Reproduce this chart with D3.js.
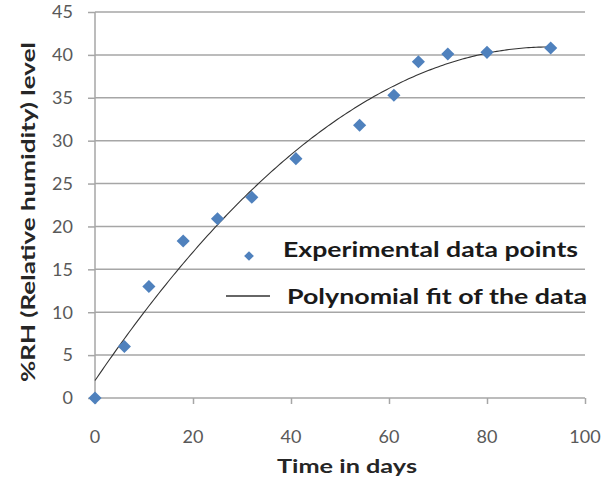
<!DOCTYPE html>
<html>
<head>
<meta charset="utf-8">
<script src="https://cdn.jsdelivr.net/npm/d3@7"></script>
<style>
  html, body { margin: 0; padding: 0; background: #fff; }
  svg { display: block; font-family: Lato, "Open Sans", sans-serif; }
</style>
</head>
<body>
<svg id="chart" width="603" height="491"></svg>
<script>
// Measured relative humidity over time
const days = [0, 6, 11, 18, 25, 32, 41, 54, 61, 66, 72, 80, 93];
const rhLevel = [0, 6.0, 13.0, 18.3, 20.9, 23.4, 27.9, 31.8, 35.3, 39.2, 40.1, 40.3, 40.8];
const xTicks = [0, 20, 40, 60, 80, 100];
const yTicks = [0, 5, 10, 15, 20, 25, 30, 35, 40, 45];
const legendLabels = ["Experimental data points", "Polynomial fit of the data"];
const fitDegree = 2;

const W = 603, H = 491;
const margin = { top: 12, right: 18, bottom: 93, left: 95 };

const svg = d3.select("#chart");

const x = d3.scaleLinear().domain([0, 100]).range([margin.left, W - margin.right]);
const y = d3.scaleLinear().domain([0, 45]).range([H - margin.bottom, margin.top]);

// Least-squares polynomial fit (normal equations, Gaussian elimination)
function polyFit(xs, ys, deg) {
  const n = deg + 1;
  const A = Array.from({ length: n }, () => new Array(n + 1).fill(0));
  for (let r = 0; r < n; r++) {
    for (let c = 0; c < n; c++) A[r][c] = d3.sum(xs, v => Math.pow(v, r + c));
    A[r][n] = d3.sum(xs, (v, i) => ys[i] * Math.pow(v, r));
  }
  for (let i = 0; i < n; i++) {
    let p = i;
    for (let k = i + 1; k < n; k++) if (Math.abs(A[k][i]) > Math.abs(A[p][i])) p = k;
    [A[i], A[p]] = [A[p], A[i]];
    for (let k = i + 1; k < n; k++) {
      const f = A[k][i] / A[i][i];
      for (let c = i; c <= n; c++) A[k][c] -= f * A[i][c];
    }
  }
  const coef = new Array(n).fill(0);
  for (let i = n - 1; i >= 0; i--) {
    let s = A[i][n];
    for (let c = i + 1; c < n; c++) s -= A[i][c] * coef[c];
    coef[i] = s / A[i][i];
  }
  return coef;
}
const coef = polyFit(days, rhLevel, fitDegree);
const fitY = t => coef.reduce((s, c, i) => s + c * Math.pow(t, i), 0);

// Horizontal gridlines (they run a little past the y axis like tick marks)
svg.append("g")
  .attr("transform", `translate(${margin.left},0)`)
  .call(d3.axisLeft(y).tickValues(yTicks).tickSize(7).tickFormat(""))
  .call(g => g.select(".domain").remove())
  .call(g => g.selectAll("line").attr("stroke", "#a6a6a6").attr("stroke-width", 1.5));
svg.append("g")
  .selectAll("line")
  .data(yTicks.filter(d => d > 0))
  .join("line")
  .attr("x1", margin.left).attr("x2", W - margin.right)
  .attr("y1", d => y(d)).attr("y2", d => y(d))
  .attr("stroke", "#a6a6a6").attr("stroke-width", 1.5);

// Y axis line and labels
svg.append("line")
  .attr("x1", x(0)).attr("x2", x(0))
  .attr("y1", y(45)).attr("y2", y(0))
  .attr("stroke", "#a6a6a6").attr("stroke-width", 1.5);
svg.append("g")
  .selectAll("text")
  .data(yTicks)
  .join("text")
  .attr("x", 73).attr("y", d => y(d)).attr("dy", "0.35em")
  .attr("text-anchor", "end")
  .attr("font-size", 18).attr("fill", "#595959")
  .text(d => d);

// X axis
const xAxis = svg.append("g")
  .attr("transform", `translate(0,${y(0)})`)
  .call(d3.axisBottom(x).tickValues(xTicks).tickSize(6).tickFormat(""));
xAxis.select(".domain").attr("stroke", "#a6a6a6").attr("stroke-width", 1.5).attr("d", `M${x(0)},0H${x(100)}`);
xAxis.selectAll(".tick line").attr("stroke", "#a6a6a6").attr("stroke-width", 1.5);
svg.append("g")
  .selectAll("text")
  .data(xTicks)
  .join("text")
  .attr("x", d => x(d)).attr("y", 437).attr("dy", "0.35em")
  .attr("text-anchor", "middle")
  .attr("font-size", 18).attr("fill", "#595959")
  .text(d => d);

// Fit curve
const fitPts = d3.range(0, 93.01, 0.5).map(t => [t, fitY(t)]);
svg.append("path")
  .datum(fitPts)
  .attr("d", d3.line().x(d => x(d[0])).y(d => y(d[1])).curve(d3.curveLinear))
  .attr("fill", "none").attr("stroke", "#333").attr("stroke-width", 1.1);

// Data markers
const diamond = d3.symbol().type(d3.symbolDiamond2);
svg.append("g")
  .selectAll("path")
  .data(days.map((d, i) => [d, rhLevel[i]]))
  .join("path")
  .attr("transform", d => `translate(${x(d[0])},${y(d[1])})`)
  .attr("d", diamond.size(110))
  .attr("fill", "#4f81bd");

// Legend
const lg = svg.append("g");
lg.append("path")
  .attr("transform", "translate(249,256)")
  .attr("d", d3.symbol().type(d3.symbolDiamond2).size(60))
  .attr("fill", "#4f81bd");
lg.append("line")
  .attr("x1", 226).attr("x2", 270).attr("y1", 296).attr("y2", 296)
  .attr("stroke", "#333").attr("stroke-width", 1.3);
lg.selectAll("text")
  .data(legendLabels)
  .join("text")
  .attr("x", (d, i) => i === 0 ? 283 : 287)
  .attr("y", (d, i) => i === 0 ? 257 : 304)
  .attr("font-size", 21).attr("font-weight", "bold").attr("fill", "#1a1a1a")
  .attr("textLength", (d, i) => i === 0 ? 295 : 300)
  .attr("lengthAdjust", "spacingAndGlyphs")
  .text(d => d);

// Axis titles
svg.append("text")
  .attr("x", 347).attr("y", 473)
  .attr("text-anchor", "middle")
  .attr("font-size", 19).attr("font-weight", "bold").attr("fill", "#262626")
  .attr("textLength", 140).attr("lengthAdjust", "spacingAndGlyphs")
  .text("Time in days");
svg.append("text")
  .attr("transform", "translate(35,212) rotate(-90)")
  .attr("text-anchor", "middle")
  .attr("font-size", 19).attr("font-weight", "bold").attr("fill", "#262626")
  .attr("textLength", 340).attr("lengthAdjust", "spacingAndGlyphs")
  .text("%RH (Relative humidity) level");
</script>
</body>
</html>
